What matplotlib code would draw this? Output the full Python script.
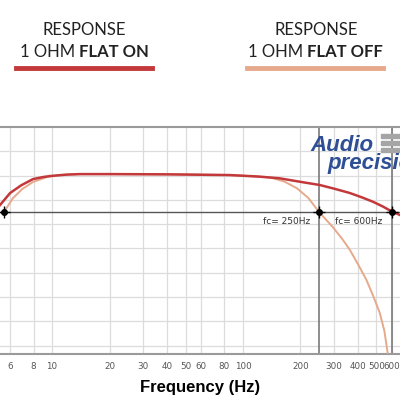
# Frequency response, 1 ohm load, FLAT on / off
import matplotlib.pyplot as plt
import numpy as np

# data (Hz, dB)
freq_on = [5.34, 6.03, 6.9, 7.95, 9.0, 9.76, 12.0, 14.0, 20, 40, 85.5, 120, 156, 198.6, 252.7, 300, 363, 420, 479.5, 540, 600, 664]
db_on = [-2.43, -1.44, -0.8, -0.29, -0.12, -0.04, 0.08, 0.12, 0.12, 0.1, 0.04, -0.08, -0.23, -0.51, -0.78, -1.08, -1.44, -1.8, -2.16, -2.55, -2.95, -3.25]

freq_off = [5.6, 6.25, 7.0, 7.95, 9.42, 11.0, 14.0, 20, 40, 85.5, 109, 138.6, 165, 191.8, 220, 250, 294, 330, 363, 400, 443, 480, 520, 550, 572]
db_off = [-3.0, -1.85, -1.1, -0.53, -0.12, 0.05, 0.12, 0.12, 0.1, 0.04, -0.05, -0.15, -0.5, -1.05, -1.85, -3.0, -4.21, -5.2, -6.13, -7.3, -8.6, -9.9, -11.3, -12.8, -14.6]

cutoffs = [5.6, 250, 600]
xticks = [6, 8, 10, 20, 30, 40, 50, 60, 80, 100, 200, 300, 400, 500, 600]
yticks = [-14, -12, -10, -8, -6, -4, -2, 0, 2]

col_on = '#c3393b'
col_off = '#e6a98b'

fig = plt.figure(figsize=(4, 4), dpi=100)
ax = fig.add_axes([0, 0.115, 1, 0.5675])

ax.plot(freq_off, db_off, color=col_off, lw=1.4, zorder=3)
ax.plot(freq_on, db_on, color=col_on, lw=1.8, zorder=4)

ax.set_xscale('log')
ax.set_xlim(5.34, 664)
ax.set_ylim(-14.7, 4)

# grid
ax.set_xticks(xticks)
ax.set_xticklabels([str(t) for t in xticks])
ax.minorticks_off()
ax.set_yticks(yticks)
ax.set_yticklabels([])
ax.tick_params(axis='both', length=0, colors='#555555', labelsize=6.3, pad=6)
ax.grid(True, color='#dcdcdc', lw=0.9)

for s in ['left', 'right']:
    ax.spines[s].set_visible(False)
for s in ['top', 'bottom']:
    ax.spines[s].set_color('#9a9a9a')
    ax.spines[s].set_linewidth(1.5)

# -3 dB reference line and cutoff markers
ax.axhline(-3, color='#555555', lw=1, zorder=2)
for f in cutoffs[1:]:
    ax.axvline(f, color='#7a7a7a', lw=1.2, zorder=2)
ax.plot(cutoffs, [-3] * 3, 'o', color='black', ms=4, zorder=6)
ax.plot(cutoffs, [-3] * 3, '+', color='black', ms=9, mew=1, zorder=6)

ax.text(224, -3.45, 'fc= 250Hz', ha='right', va='top', fontsize=6.5, color='#333333')
ax.text(303, -3.45, 'fc= 600Hz', ha='left', va='top', fontsize=6.5, color='#333333')

ax.set_xlabel('Frequency (Hz)', fontsize=12, fontweight='bold', family='Liberation Sans', labelpad=6)

# header legend
hdr = 'Lato'
fig.text(0.21, 0.925, 'RESPONSE', ha='center', va='center', fontsize=12, family=hdr, color='#222222')
fig.text(0.79, 0.925, 'RESPONSE', ha='center', va='center', fontsize=12, family=hdr, color='#222222')
t1 = fig.text(0.05, 0.87, '1 OHM ', ha='left', va='center', fontsize=12, family=hdr, color='#222222')
fig.add_artist(plt.Annotation('FLAT ON', xy=(1, 0.5), xycoords=t1, ha='left', va='center',
                              fontsize=12, family=hdr, fontweight='bold', color='#222222'))
t2 = fig.text(0.62, 0.87, '1 OHM ', ha='left', va='center', fontsize=12, family=hdr, color='#222222')
fig.add_artist(plt.Annotation('FLAT OFF', xy=(1, 0.5), xycoords=t2, ha='left', va='center',
                              fontsize=12, family=hdr, fontweight='bold', color='#222222'))
fig.add_artist(plt.Line2D([0.04, 0.38], [0.83, 0.83], color=col_on, lw=3.5))
fig.add_artist(plt.Line2D([0.617, 0.957], [0.83, 0.83], color=col_off, lw=3.5))

# logo
fig.text(0.775, 0.622, 'Audio', fontsize=16, fontweight='bold', style='italic', color='#2e4f96', family='Liberation Sans')
fig.text(0.818, 0.578, 'precision', fontsize=16, fontweight='bold', style='italic', color='#2e4f96', family='Liberation Sans')
for yb in [0.655, 0.637, 0.619]:
    fig.add_artist(plt.Rectangle((0.952, yb), 0.05, 0.011, color='#a5a5a5', transform=fig.transFigure))

fig.savefig('out.png', dpi=100)
